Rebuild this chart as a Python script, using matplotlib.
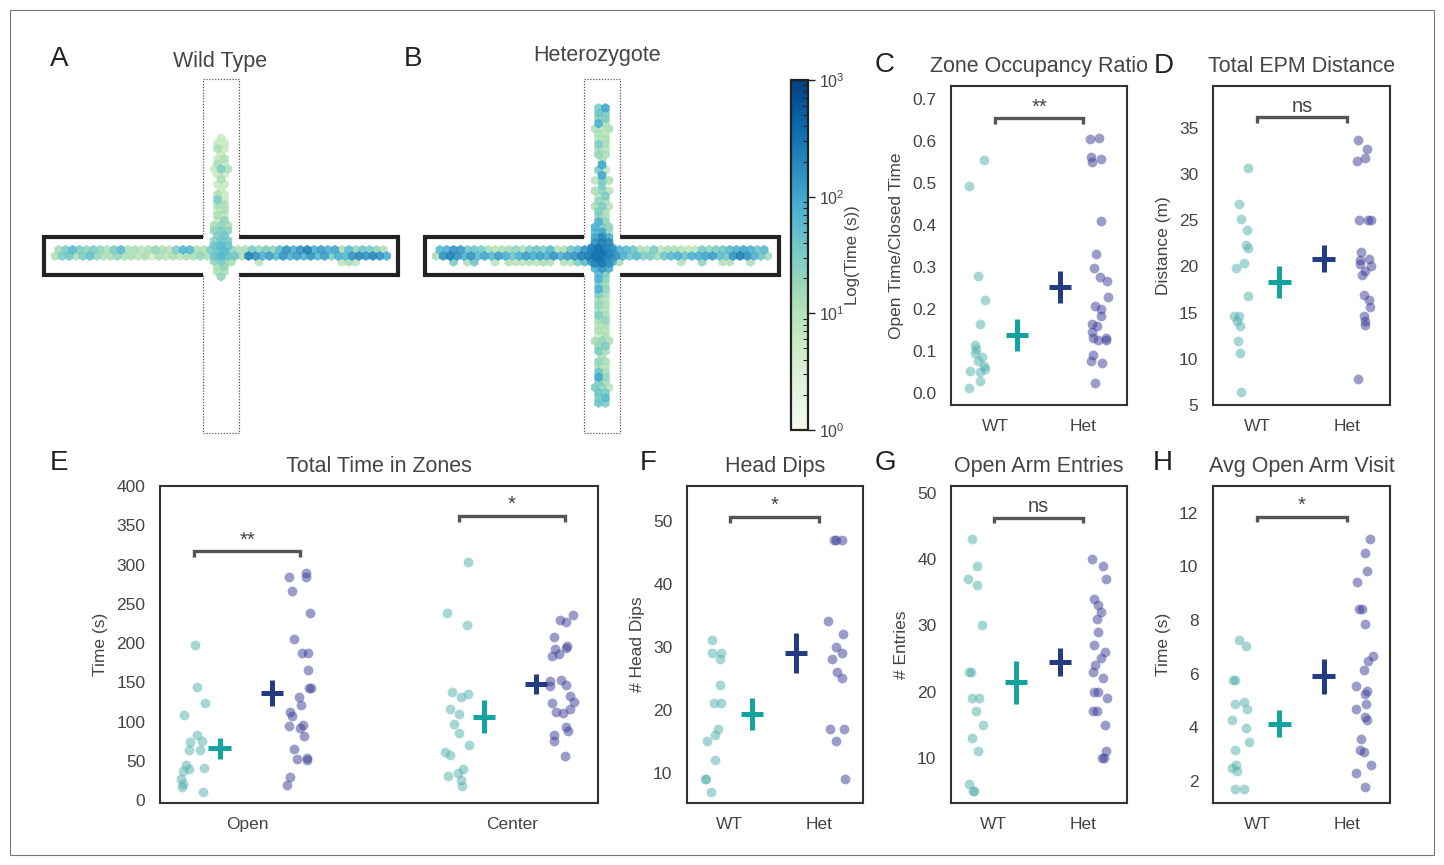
import numpy as np
import matplotlib
matplotlib.use("Agg")
import matplotlib.pyplot as plt
from matplotlib.colors import LogNorm
from matplotlib.cm import ScalarMappable
from matplotlib.patches import Rectangle
from matplotlib.ticker import FormatStrFormatter

# ======================= DATA =======================
# Panels A/B: time (s) spent in each hexagonal bin (0 = empty bin)
# horizontal (closed) arms: three rows of bins, left -> right
wt_top = [15, 30, 60, 30, 20, 30, 20, 12, 30, 60, 12, 12, 8, 12, 20, 12, 8, 30, 70, 60, 12, 12, 30,
          30, 40, 20,
          12, 12, 30, 20, 30, 20, 60, 150, 80, 150, 250, 80, 120, 80, 100, 12, 60, 20, 40, 30, 20, 12]
wt_mid = [12, 30, 40, 12, 30, 50, 20, 12, 12, 20, 12, 12, 8, 12, 5, 12, 8, 12, 8, 12, 12, 20, 12,
          40, 60, 40,
          40, 12, 250, 150, 80, 120, 60, 150, 80, 120, 80, 150, 60, 120, 30, 80, 60, 150, 200, 150, 200, 150, 80]
wt_bot = [0, 0, 0, 0, 0, 0, 0, 0, 0, 0, 0, 0, 0, 0, 0, 0, 0, 0, 0, 0, 0, 0, 0,
          0, 0, 12,
          0, 0, 0, 8, 0, 0, 0, 0, 0, 0, 0, 0, 0, 0, 0, 8, 12, 8, 0, 0, 0, 0]
# vertical (open) arm: rows of bins, top -> bottom
wt_vert = [[6], [6, 6], [12, 6], [6], [6, 12], [12, 6], [6, 30, 12], [6, 6], [12], [6, 6],
           [6], [12, 6], [30, 6], [12, 12], [6, 12], [12, 6], [6, 20], [12, 20, 12], [20, 30, 20], [30, 40],
           [20, 40, 30], [40, 60, 40], [40, 60], [30, 40], [20, 30, 12], [12, 20], [12, 12], [20]]

het_top = [60, 80, 150, 120, 40, 40, 30, 12, 10, 12, 15, 20, 12, 30, 40, 30, 60, 10, 12, 40, 60, 150,
           150, 250, 200, 150,
           80, 60, 40, 12, 10, 30, 8, 12, 12, 10, 8, 8, 30, 20, 30, 40, 60, 80, 100, 80, 40, 60]
het_mid = [12, 150, 250, 150, 80, 150, 60, 100, 60, 120, 80, 40, 80, 120, 80, 120, 80, 150, 80, 120, 150, 250,
           250, 300, 250, 200, 150,
           80, 40, 60, 30, 30, 15, 40, 60, 80, 40, 80, 80, 100, 120, 60, 40, 150, 250, 150, 80, 40, 15]
het_bot = [0, 0, 30, 0, 12, 40, 0, 0, 8, 0, 10, 8, 8, 10, 8, 12, 10, 0, 10, 10, 30, 60,
           150, 200, 150, 80,
           12, 0, 0, 0, 0, 0, 0, 0, 0, 10, 0, 0, 20, 0, 0, 10, 10, 0, 0, 12, 0, 0]
het_vert = [[30, 100], [40, 30], [20, 30], [80, 12], [12, 8, 12], [12, 8], [8, 12], [30, 12], [12, 8], [20, 12],
            [12], [100], [30, 8], [100], [8, 30, 12], [30], [12, 20, 8], [8, 30], [20, 12], [12, 30, 8],
            [30, 12], [20, 12], [80, 20], [80, 30, 20], [60, 100, 12], [100, 200, 80], [150, 250, 200],
            [200, 300, 150, 80], [250, 300, 200], [150, 300, 150, 100],
            [200, 250, 150], [80, 150, 80], [60, 30], [80, 20], [30, 12], [80, 20], [30, 12], [12, 8], [20, 12], [12, 8],
            [30, 12], [12, 20], [8, 12], [12, 8], [5, 12], [12, 20, 12], [20, 30], [30, 12], [12], [20, 12],
            [12, 8], [40, 12], [100, 20], [30, 12], [30, 20, 8], [40, 30], [30, 60], [40, 30]]

genotypes = ["WT", "Het"]
zones = ["Open", "Center"]

# C: Zone occupancy ratio
c_wt = [0.492, 0.554, 0.278, 0.222, 0.164, 0.114, 0.105, 0.095, 0.085, 0.075, 0.065, 0.056, 0.049, 0.052, 0.029, 0.011]
c_wt_jit = [-0.30, -0.12, -0.19, -0.11, -0.17, -0.23, -0.22, -0.23, -0.15, -0.19, -0.13, -0.11, -0.17, -0.28, -0.17, -0.29]
c_het = [0.605, 0.607, 0.561, 0.551, 0.556, 0.41, 0.331, 0.297, 0.275, 0.267, 0.228, 0.208, 0.2, 0.182, 0.164,
         0.159, 0.144, 0.13, 0.126, 0.13, 0.125, 0.089, 0.077, 0.071, 0.024]
c_het_jit = [0.075, 0.18, 0.09, 0.10, 0.21, 0.2, 0.15, 0.13, 0.19, 0.27, 0.28, 0.14, 0.2, 0.21, 0.1,
             0.16, 0.1, 0.11, 0.17, 0.26, 0.26, 0.11, 0.09, 0.22, 0.14]
c_mean = [0.138, 0.252]
c_sem = [0.038, 0.038]

# D: Total EPM distance (m)
d_wt = [30.66, 26.76, 25.17, 23.9, 22.27, 21.99, 20.36, 19.82, 16.82, 14.58, 14.65, 14.04, 13.49, 11.94, 10.6, 6.37]
d_wt_jit = [-0.10, -0.2, -0.18, -0.11, -0.12, -0.1, -0.14, -0.23, -0.1, -0.26, -0.2, -0.22, -0.19, -0.21, -0.19, -0.18]
d_het = [33.66, 32.65, 31.71, 31.42, 25.06, 25.06, 25.06, 21.6, 20.83, 20.72, 20.29, 20.0, 19.46, 19.1, 16.93,
         16.38, 15.55, 14.65, 14.04, 13.67, 7.82]
d_het_jit = [0.12, 0.22, 0.2, 0.11, 0.14, 0.24, 0.27, 0.16, 0.25, 0.15, 0.15, 0.27, 0.2, 0.17, 0.19,
             0.25, 0.26, 0.19, 0.2, 0.2, 0.12]
d_mean = [18.3, 20.83]
d_sem = [1.77, 1.45]

# E: Total time in zones (s)
e_open_wt = [197, 144.5, 123.7, 108.9, 82.2, 73.7, 75.8, 63.6, 63.6, 44, 39, 36.4, 41.1, 26.3, 20.8, 16.5, 10.2]
e_open_wt_jit = [-0.198, -0.192, -0.160, -0.238, -0.192, -0.216, -0.172, -0.219, -0.177, -0.232, -0.221, -0.242,
                 -0.163, -0.249, -0.242, -0.246, -0.166]
e_open_het = [284.3, 289.8, 283.5, 265.7, 238.6, 205.5, 186.9, 187.3, 166, 142.8, 142.8, 131, 121.6, 112.3, 107.6,
              94, 95.3, 92, 81.8, 64.4, 52.5, 53.8, 50.8, 29.2, 19]
e_open_het_jit = [0.157, 0.220, 0.220, 0.167, 0.236, 0.177, 0.205, 0.228, 0.228, 0.232, 0.242, 0.197, 0.204, 0.160,
                  0.167, 0.156, 0.211, 0.200, 0.215, 0.177, 0.186, 0.225, 0.225, 0.160, 0.150]
e_center_wt = [237.7, 222.9, 303, 137.3, 130.9, 135.2, 116.1, 110.2, 97, 85.6, 69.9, 61.4, 57.2, 39, 34.7, 30.5, 25.4, 17.8]
e_center_wt_jit = [-0.246, -0.170, -0.165, -0.226, -0.192, -0.166, -0.234, -0.202, -0.219, -0.202, -0.161, -0.255,
                   -0.236, -0.185, -0.205, -0.243, -0.193, -0.190]
e_center_het = [235.2, 229.2, 227.1, 207.2, 196.2, 193.2, 192.8, 186, 183, 152.1, 152.5, 146.2, 144.9, 133, 125,
                124, 112.3, 116.1, 110.6, 93.2, 87.7, 82.6, 75, 55.5]
e_center_het_jit = [0.229, 0.180, 0.204, 0.157, 0.208, 0.204, 0.163, 0.176, 0.153, 0.142, 0.185, 0.205, 0.145,
                    0.221, 0.236, 0.151, 0.166, 0.219, 0.192, 0.205, 0.213, 0.157, 0.158, 0.202]
e_mean_wt = [65.7, 105.9]
e_sem_wt = [13.8, 21.0]
e_mean_het = [136.4, 147.9]
e_sem_het = [17.0, 12.7]

# F: Head dips
f_wt = [31, 29, 29, 28, 24, 21, 21, 17, 16, 15, 12, 9, 9, 7]
f_wt_jit = [-0.2, -0.2, -0.1, -0.11, -0.11, -0.18, -0.1, -0.13, -0.17, -0.26, -0.17, -0.28, -0.27, -0.21]
f_het = [47, 47, 47, 34, 32, 30, 29, 28, 26, 25, 17, 17, 15, 9]
f_het_jit = [0.17, 0.19, 0.25, 0.1, 0.27, 0.19, 0.26, 0.14, 0.2, 0.25, 0.12, 0.28, 0.19, 0.29]
f_mean = [19.3, 29.0]
f_sem = [2.5, 3.2]

# G: Open arm entries
g_wt = [43, 39, 37, 36, 30, 23, 23, 19, 19, 17, 15, 13, 11, 6, 5, 5]
g_wt_jit = [-0.24, -0.19, -0.29, -0.19, -0.13, -0.28, -0.26, -0.25, -0.17, -0.2, -0.12, -0.24, -0.18, -0.28, -0.23, -0.22]
g_het = [40, 39, 37, 34, 33, 32, 31, 29, 27, 26, 25, 24, 23, 22, 20, 20, 19, 17, 17, 15, 11, 10, 10]
g_het_jit = [0.1, 0.22, 0.26, 0.12, 0.16, 0.2, 0.15, 0.17, 0.12, 0.24, 0.2, 0.13, 0.11, 0.22, 0.12, 0.17, 0.27,
             0.11, 0.15, 0.24, 0.25, 0.21, 0.23]
g_mean = [21.4, 24.5]
g_sem = [3.2, 2.1]

# H: Avg open arm visit (s)
h_wt = [7.26, 7.04, 5.76, 5.76, 4.94, 4.87, 4.67, 4.27, 3.97, 3.47, 3.17, 2.59, 2.47, 2.37, 1.69, 1.69]
h_wt_jit = [-0.2, -0.12, -0.27, -0.24, -0.15, -0.25, -0.11, -0.28, -0.12, -0.09, -0.24, -0.23, -0.28, -0.22, -0.25, -0.14]
h_het = [11.01, 10.52, 9.83, 9.43, 8.43, 8.43, 7.84, 6.66, 6.46, 6.15, 5.56, 5.37, 5.24, 4.87, 4.67, 4.39, 4.27,
         3.56, 3.17, 3.07, 2.58, 2.3, 1.79]
h_het_jit = [0.26, 0.2, 0.22, 0.11, 0.14, 0.17, 0.2, 0.29, 0.24, 0.19, 0.1, 0.22, 0.2, 0.21, 0.1, 0.2, 0.22,
             0.16, 0.15, 0.19, 0.27, 0.1, 0.2]
h_mean = [4.13, 5.9]
h_sem = [0.5, 0.65]

# ======================= STYLE / LAYOUT =======================
W, H, DPI = 1444, 865, 100
plt.rcParams['font.family'] = ['Liberation Sans', 'DejaVu Sans']
plt.rcParams['mathtext.default'] = 'regular'
TXT = '#444444'
WT_PT, HET_PT = '#51b1ad', '#3b3b97'
WT_X, HET_X = '#14a4a0', '#223b82'
CMAP = 'GnBu'
NORM = LogNorm(1, 1000)

fig = plt.figure(figsize=(W / DPI, H / DPI), dpi=DPI)
fig.patch.set_facecolor('white')


def px_axes(l, t, r, b):
    return fig.add_axes([l / W, 1 - b / H, (r - l) / W, (b - t) / H])


def fig_text(x, y, s, **kw):
    fig.text(x / W, 1 - y / H, s, **kw)


fig.add_artist(Rectangle((10 / W, 10 / H), 1424 / W, 845 / H, transform=fig.transFigure,
                         fill=False, lw=0.8, edgecolor='#777777'))

# ---------------- maze heat maps ----------------
PXU = 3.54          # pixels per maze unit
ARM, WC, WO = 50, 5.37, 5.2
DX = 1.95
ROW_Y = [1.75, 0.0, -1.65]


def maze(ax, rows, vert, y_top, y_bot):
    xs, ys, cs = [], [], []
    for vals, y in zip(rows, ROW_Y):
        n = len(vals)
        for k, v in enumerate(vals):
            if v > 0:
                xs.append((k - (n - 1) / 2) * DX); ys.append(y); cs.append(v)
    dy = (y_top - y_bot) / (len(vert) - 1)
    for i, row in enumerate(vert):
        m = len(row)
        for k, v in enumerate(row):
            if v > 0:
                xs.append((k - (m - 1) / 2) * DX); ys.append(y_top - i * dy); cs.append(v)
    order = np.argsort(cs)
    ax.scatter(np.array(xs)[order], np.array(ys)[order], c=np.array(cs)[order], cmap=CMAP, norm=NORM,
               marker='h', s=50, linewidths=0, alpha=0.9, zorder=2)
    k = dict(color='#222222', lw=3.0, solid_capstyle='butt', solid_joinstyle='miter', zorder=3)
    ax.plot([-WO, -ARM, -ARM, -WO], [WC, WC, -WC, -WC], **k)
    ax.plot([WO, ARM, ARM, WO], [WC, WC, -WC, -WC], **k)
    d = dict(color='#555555', lw=0.9, ls=(0, (1, 1.3)), zorder=3)
    ax.plot([-WO, -WO, WO, WO], [WC, ARM, ARM, WC], **d)
    ax.plot([-WO, -WO, WO, WO], [-WC, -ARM, -ARM, -WC], **d)
    R = 185 / PXU
    ax.set_xlim(-R, R); ax.set_ylim(-R, R)
    ax.axis('off')


axA = px_axes(36, 71, 406, 441)
maze(axA, [wt_top, wt_mid, wt_bot], wt_vert, (256 - 138.3) / PXU, (256 - 276.7) / PXU)
axB = px_axes(417, 71, 787, 441)
maze(axB, [het_top, het_mid, het_bot], het_vert, (256 - 108) / PXU, (256 - 403) / PXU)

fig_text(220, 62, 'Wild Type', ha='center', va='center', fontsize=15.5, color=TXT)
fig_text(597, 55, 'Heterozygote', ha='center', va='center', fontsize=15.5, color=TXT)

cax = px_axes(791, 80, 808, 430)
cb = fig.colorbar(ScalarMappable(norm=NORM, cmap=CMAP), cax=cax)
cb.set_ticks([1, 10, 100, 1000])
cb.set_ticklabels([r'$10^{0}$', r'$10^{1}$', r'$10^{2}$', r'$10^{3}$'])
cb.minorticks_on()
cb.outline.set_linewidth(1.6)
cb.outline.set_edgecolor('#222222')
cb.ax.tick_params(which='major', length=5, width=1, direction='out', labelsize=11.5, labelcolor=TXT, pad=3,
                  color='#222222')
cb.ax.tick_params(which='minor', length=3.5, width=0.8, direction='in', color='#222222')
cb.set_label('Log(Time (s))', fontsize=12, color=TXT, labelpad=0)


# ---------------- strip panels ----------------
def style(ax, xlim, ylim, yticks, xticks, xlabels, title, ylabel, fmt=None):
    ax.set_xlim(*xlim); ax.set_ylim(*ylim)
    ax.set_yticks(yticks)
    if fmt:
        ax.yaxis.set_major_formatter(FormatStrFormatter(fmt))
    ax.set_xticks(xticks); ax.set_xticklabels(xlabels)
    for sp in ax.spines.values():
        sp.set_color('#333333'); sp.set_linewidth(1.5)
    ax.tick_params(axis='both', length=0, labelsize=12.5, labelcolor=TXT)
    ax.tick_params(axis='y', pad=10.5)
    ax.tick_params(axis='x', pad=10)
    ax.set_title(title, fontsize=15.5, color=TXT, pad=10)
    ax.set_ylabel(ylabel, fontsize=12.5, color=TXT, labelpad=6)


def strip(ax, pos, vals, jit, color, alpha):
    ax.scatter(pos + np.asarray(jit), vals, s=50, color=color, alpha=alpha, linewidths=0, zorder=2)


def cross(ax, x, m, e, hw, color):
    c = ax.errorbar([x], [m], yerr=[e], xerr=[hw], fmt='none', ecolor=color, elinewidth=3.6,
                    capsize=0, zorder=3)
    for lc in c.lines[2]:
        lc.set_capstyle('butt')


def bracket(ax, x1, x2, y, drop, label):
    ax.plot([x1, x1, x2, x2], [y - drop, y, y, y - drop], color='#555555', lw=2.4,
            solid_joinstyle='miter', solid_capstyle='butt', zorder=4)
    ax.annotate(label, ((x1 + x2) / 2, y), xytext=(0, 4), textcoords='offset points',
                ha='center', va='baseline', fontsize=14.5, color=TXT)


def two_group(ax, wt, wt_j, het, het_j, mean, sem):
    strip(ax, 0, wt, wt_j, WT_PT, 0.5)
    strip(ax, 1, het, het_j, HET_PT, 0.5)
    cross(ax, 0.25, mean[0], sem[0], 0.125, WT_X)
    cross(ax, 0.74, mean[1], sem[1], 0.125, HET_X)


# C
axC = px_axes(951, 86, 1127, 405)
two_group(axC, c_wt, c_wt_jit, c_het, c_het_jit, c_mean, c_sem)
style(axC, (-0.5, 1.5), (-0.029, 0.731), np.arange(0, 0.71, 0.1), [0, 1], genotypes,
      'Zone Occupancy Ratio', 'Open Time/Closed Time', '%.1f')
bracket(axC, 0, 1, 0.655, 0.015, '**')

# D
axD = px_axes(1213, 86, 1390, 405)
two_group(axD, d_wt, d_wt_jit, d_het, d_het_jit, d_mean, d_sem)
style(axD, (-0.49, 1.48), (5, 39.5), np.arange(5, 36, 5), [0, 1], genotypes,
      'Total EPM Distance', 'Distance (m)')
bracket(axD, 0, 1, 36.1, 0.6, 'ns')

# E
axE = px_axes(160, 486, 598, 803)
strip(axE, 0, e_open_wt, e_open_wt_jit, WT_PT, 0.5)
strip(axE, 0, e_open_het, e_open_het_jit, HET_PT, 0.5)
strip(axE, 1, e_center_wt, e_center_wt_jit, WT_PT, 0.5)
strip(axE, 1, e_center_het, e_center_het_jit, HET_PT, 0.5)
for i in range(2):
    cross(axE, i - 0.105, e_mean_wt[i], e_sem_wt[i], 0.042, WT_X)
    cross(axE, i + 0.092, e_mean_het[i], e_sem_het[i], 0.042, HET_X)
style(axE, (-0.33, 1.325), (-3.8, 400), np.arange(0, 401, 50), [0, 1], zones,
      'Total Time in Zones', 'Time (s)')
bracket(axE, -0.2, 0.2, 317, 7.5, '**')
bracket(axE, 0.8, 1.2, 362, 7.5, '*')

# F
axF = px_axes(687, 486, 863, 803)
two_group(axF, f_wt, f_wt_jit, f_het, f_het_jit, f_mean, f_sem)
style(axF, (-0.48, 1.49), (5.2, 55.5), np.arange(10, 51, 10), [0, 1], genotypes,
      'Head Dips', '# Head Dips')
bracket(axF, 0, 1, 50.6, 0.9, '*')

# G
axG = px_axes(951, 486, 1127, 803)
two_group(axG, g_wt, g_wt_jit, g_het, g_het_jit, g_mean, g_sem)
style(axG, (-0.48, 1.49), (3.2, 51.0), np.arange(10, 51, 10), [0, 1], genotypes,
      'Open Arm Entries', '# Entries')
bracket(axG, 0, 1, 46.2, 0.8, 'ns')

# H
axH = px_axes(1213, 486, 1390, 803)
two_group(axH, h_wt, h_wt_jit, h_het, h_het_jit, h_mean, h_sem)
style(axH, (-0.49, 1.48), (1.18, 13.0), np.arange(2, 13, 2), [0, 1], genotypes,
      'Avg Open Arm Visit', 'Time (s)')
bracket(axH, 0, 1, 11.85, 0.2, '*')

# panel letters
for letter, x, y in [('A', 59, 59), ('B', 413, 59), ('C', 885, 65), ('D', 1164, 66),
                     ('E', 59, 463), ('F', 648, 463), ('G', 885, 463), ('H', 1163, 463)]:
    fig_text(x, y, letter, ha='center', va='center', fontsize=20, color='#222222')

fig.savefig('out.png', dpi=DPI, facecolor='white')
